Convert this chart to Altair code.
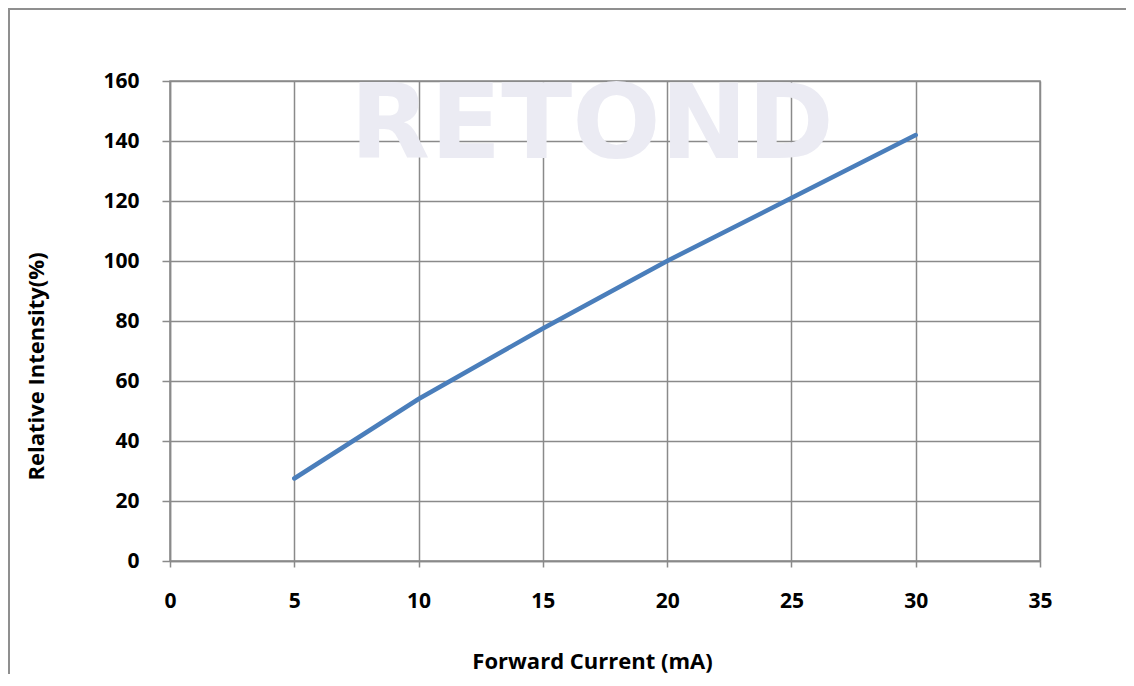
import altair as alt
import pandas as pd

current = [5, 10, 15, 20, 25, 30]
intensity = [27.5, 54, 77.5, 100, 121, 142]
x_ticks = [0, 5, 10, 15, 20, 25, 30, 35]
y_ticks = [0, 20, 40, 60, 80, 100, 120, 140, 160]

df = pd.DataFrame({"current": current, "intensity": intensity})
one = pd.DataFrame({"a": [0]})

GRID = "#8a8a8a"
FONT = "Open Sans"

frame = alt.Chart(one).mark_rect(fill=None, stroke="#8f8f8f", strokeWidth=2, clip=False).encode(
    x=alt.value(-161), x2=alt.value(1100), y=alt.value(-72), y2=alt.value(700)
)

watermark = alt.Chart(one).mark_text(
    text="RETOND", font="DejaVu Sans", fontWeight="bold", fontSize=104,
    color="#ebebf3", align="center", baseline="middle"
).encode(x=alt.value(422), y=alt.value(46))

line = alt.Chart(df).mark_line(color="#4a7ebb", strokeWidth=4.5, strokeCap="round").encode(
    x=alt.X("current:Q", scale=alt.Scale(domain=[0, 35], nice=False),
            axis=alt.Axis(values=x_ticks, title="Forward Current (mA)", grid=True,
                          tickSize=6, labelPadding=23, labelFlush=False,
                          titleX=422, titleY=100, titleBaseline="middle", titleAlign="center")),
    y=alt.Y("intensity:Q", scale=alt.Scale(domain=[0, 160], nice=False),
            axis=alt.Axis(values=y_ticks, title="Relative Intensity(%)", grid=True,
                          tickSize=8, labelPadding=23, labelFlush=False,
                          titleX=-134, titleY=285, titleAngle=270,
                          titleBaseline="middle", titleAlign="center")),
)

chart = alt.layer(frame, watermark, line).properties(
    width=870, height=480,
    autosize=alt.AutoSizeParams(type="none"),
    padding={"left": 162, "top": 73, "right": 86, "bottom": 113},
).configure_view(stroke=GRID, strokeWidth=1.5).configure_axis(
    gridColor=GRID, gridWidth=1.5, gridOpacity=1,
    domainColor=GRID, domainWidth=1.5,
    tickColor=GRID, tickWidth=1.5,
    labelFont=FONT, labelFontWeight="bold", labelFontSize=21, labelColor="#000000",
    titleFont=FONT, titleFontWeight="bold", titleFontSize=22, titleColor="#000000",
)

chart.save("out.html", embed_options={"renderer": "svg", "actions": False})
